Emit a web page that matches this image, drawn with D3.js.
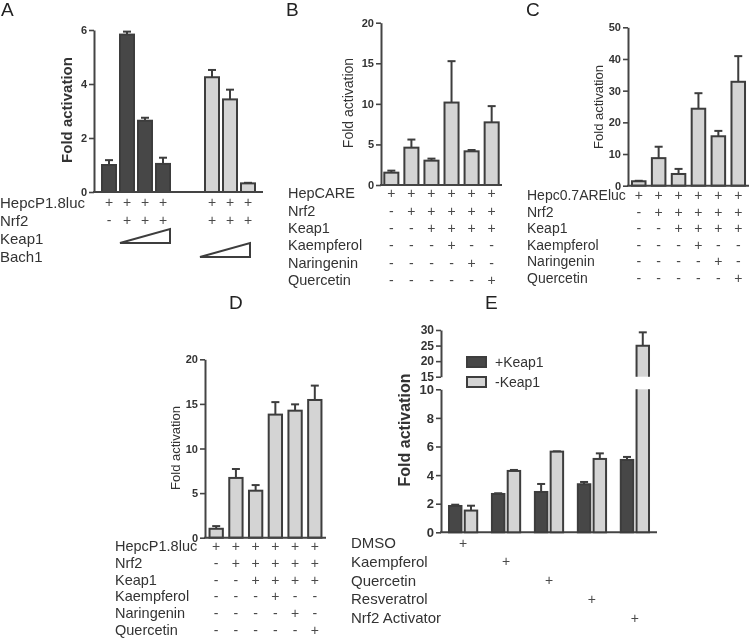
<!DOCTYPE html>
<html><head><meta charset="utf-8">
<script src="https://cdn.jsdelivr.net/npm/d3@7"></script>
<style>
body{margin:0;background:#fff;}
svg{display:block;font-family:"Liberation Sans",Arial,sans-serif;}
</style></head><body>
<svg id="chart" width="750" height="638"><g id="root" opacity="0.999"></g></svg>
<script>
// ---------- Panel A ----------
const aKeap1Values = [1.0, 5.83, 2.64, 1.04];
const aKeap1Errors = [0.18, 0.11, 0.11, 0.23];
const aBach1Values = [4.25, 3.43, 0.32];
const aBach1Errors = [0.27, 0.36, 0.02];
const aTicks = [0, 2, 4, 6];
const aRowLabels = ["HepcP1.8luc", "Nrf2", "Keap1", "Bach1"];
const aRowMarks = [["+","+","+","+","+","+","+"], ["-","+","+","+","+","+","+"]];

// ---------- Shared +/- design for B, C, D ----------
const flavonoidMarks = [
  ["+","+","+","+","+","+"],
  ["-","+","+","+","+","+"],
  ["-","-","+","+","+","+"],
  ["-","-","-","+","-","-"],
  ["-","-","-","-","+","-"],
  ["-","-","-","-","-","+"]
];

// ---------- Panel B ----------
const bValues = [1.52, 4.6, 3.0, 10.16, 4.15, 7.72];
const bErrors = [0.25, 1.0, 0.25, 5.1, 0.16, 2.0];
const bTicks = [0, 5, 10, 15, 20];
const bRowLabels = ["HepCARE", "Nrf2", "Keap1", "Kaempferol", "Naringenin", "Quercetin"];

// ---------- Panel C ----------
const cValues = [1.4, 8.7, 3.7, 24.3, 15.6, 32.8];
const cErrors = [0.15, 3.6, 1.6, 4.9, 1.7, 8.1];
const cTicks = [0, 10, 20, 30, 40, 50];
const cRowLabels = ["Hepc0.7AREluc", "Nrf2", "Keap1", "Kaempferol", "Naringenin", "Quercetin"];

// ---------- Panel D ----------
const dValues = [1.0, 6.7, 5.27, 13.8, 14.24, 15.44];
const dErrors = [0.3, 1.0, 0.63, 1.4, 0.71, 1.61];
const dTicks = [0, 5, 10, 15, 20];
const dRowLabels = ["HepcP1.8luc", "Nrf2", "Keap1", "Kaempferol", "Naringenin", "Quercetin"];

// ---------- Panel E ----------
const eTreatments = ["DMSO", "Kaempferol", "Quercetin", "Resveratrol", "Nrf2 Activator"];
const eSeries = ["+Keap1", "-Keap1"];
const ePlusKeap1 = [1.84, 2.68, 2.82, 3.36, 5.06];
const ePlusKeap1Err = [0.09, 0.05, 0.56, 0.16, 0.21];
const eMinusKeap1 = [1.52, 4.29, 5.64, 5.13, 24.96];
const eMinusKeap1Err = [0.34, 0.07, 0.02, 0.39, 4.29];
const eLowerTicks = [0, 2, 4, 6, 8, 10];
const eUpperTicks = [15, 20, 25, 30];

// ---------- styles ----------
const DARK = "#474747", LIGHT = "#d4d4d4", EDGE = "#3d3d3d", TXT = "#333", AX = "#444";
const svg = d3.select("#root");

function yAxis(scale, ticks, x, size, weight) {
  const g = svg.append("g").attr("transform", `translate(${x},0)`)
    .call(d3.axisLeft(scale).tickValues(ticks).tickFormat(d3.format("d")).tickSize(5).tickSizeOuter(0).tickPadding(2));
  g.select(".domain").attr("stroke", AX).attr("stroke-width", 2);
  g.selectAll(".tick line").attr("stroke", AX).attr("stroke-width", 1.6);
  g.selectAll(".tick text").attr("fill", TXT).attr("font-size", size).attr("font-weight", weight)
    .attr("font-family", "Liberation Sans, Arial, sans-serif");
  return g;
}
function xLine(x1, x2, y) {
  svg.append("line").attr("x1", x1 - 1).attr("x2", x2).attr("y1", y).attr("y2", y)
    .attr("stroke", AX).attr("stroke-width", 2);
}
function bars(xs, ys, values, errors, fill, capHalf) {
  const bw = xs.bandwidth();
  const g = svg.append("g");
  values.forEach((v, i) => {
    const x = xs(i), cx = x + bw / 2;
    const top = ys(v + errors[i]);
    g.append("line").attr("x1", cx).attr("x2", cx).attr("y1", ys(v)).attr("y2", top)
      .attr("stroke", EDGE).attr("stroke-width", 2);
    g.append("line").attr("x1", cx - capHalf).attr("x2", cx + capHalf).attr("y1", top).attr("y2", top)
      .attr("stroke", EDGE).attr("stroke-width", 2);
    g.append("rect").attr("x", x).attr("y", ys(v)).attr("width", bw).attr("height", ys(0) - ys(v))
      .attr("fill", fill).attr("stroke", EDGE).attr("stroke-width", 2);
  });
}
function yLabel(text, x, y, size, weight) {
  svg.append("text").attr("transform", `translate(${x},${y}) rotate(-90)`)
    .attr("text-anchor", "middle").attr("dominant-baseline", "central")
    .attr("font-size", size).attr("font-weight", weight).attr("fill", TXT).text(text);
}
function rowLabel(text, x, y, size) {
  svg.append("text").attr("x", x).attr("y", y).attr("dominant-baseline", "central")
    .attr("font-size", size).attr("fill", TXT).text(text);
}
function mark(text, x, y) {
  svg.append("text").attr("x", x).attr("y", y).attr("text-anchor", "middle")
    .attr("dominant-baseline", "central").attr("font-size", 14).attr("fill", "#4a4a4a").text(text);
}
function letter(text, x, y) {
  svg.append("text").attr("x", x).attr("y", y).attr("font-size", 19).attr("fill", "#222").text(text);
}

// ================= Panel A =================
letter("A", 1, 16);
const yA = d3.scaleLinear().domain([0, 6]).range([192, 30]);
const xAK = d3.scaleBand().domain(d3.range(aKeap1Values.length)).range([100, 172]).paddingInner(0.222).paddingOuter(0.111);
const xAB = d3.scaleBand().domain(d3.range(aBach1Values.length)).range([203, 257]).paddingInner(0.222).paddingOuter(0.111);
yAxis(yA, aTicks, 94, 11, "bold");
bars(xAK, yA, aKeap1Values, aKeap1Errors, DARK, 4);
bars(xAB, yA, aBach1Values, aBach1Errors, LIGHT, 4);
xLine(94, 263, 192);
yLabel("Fold activation", 66, 110, 15, "bold");
const aCenters = [...d3.range(4).map(i => xAK(i) + xAK.bandwidth() / 2), ...d3.range(3).map(i => xAB(i) + xAB.bandwidth() / 2)];
aRowLabels.forEach((t, r) => rowLabel(t, 0, 202 + r * 18, 15));
aRowMarks.forEach((row, r) => row.forEach((m, i) => mark(m, aCenters[i], 202 + r * 18)));
// wedges for increasing Keap1 / Bach1
svg.append("path").attr("d", `M${xAK(1)},243 L${xAK(3) + xAK.bandwidth()},243 L${xAK(3) + xAK.bandwidth()},229 Z`)
  .attr("fill", "#fff").attr("stroke", EDGE).attr("stroke-width", 2);
svg.append("path").attr("d", `M${xAB(0) - 5},257 L${xAB(2) + xAB.bandwidth() - 5},257 L${xAB(2) + xAB.bandwidth() - 5},243 Z`)
  .attr("fill", "#fff").attr("stroke", EDGE).attr("stroke-width", 2);

// ================= Panel B / C / D =================
function flavPanel(values, errors, ticks, labels, cfg) {
  letter(cfg.letter, cfg.lx, cfg.ly);
  const y = d3.scaleLinear().domain([0, d3.max(ticks)]).range([cfg.y0, cfg.yTop]);
  const x = d3.scaleBand().domain(d3.range(values.length)).range([cfg.ax, cfg.xEnd]).paddingInner(cfg.pi).paddingOuter(cfg.po);
  yAxis(y, ticks, cfg.ax, cfg.tickSize, cfg.tickWeight);
  bars(x, y, values, errors, LIGHT, 4);
  xLine(cfg.ax, cfg.xEnd, cfg.y0);
  yLabel("Fold activation", cfg.labX, cfg.labY, cfg.labSize, "normal");
  labels.forEach((t, r) => rowLabel(t, cfg.rowX, cfg.row0 + r * cfg.rowStep, cfg.rowSize));
  flavonoidMarks.forEach((row, r) => row.forEach((m, i) => mark(m, x(i) + x.bandwidth() / 2, cfg.row0 + r * cfg.rowStep)));
}
flavPanel(bValues, bErrors, bTicks, bRowLabels, {letter: "B", lx: 286, ly: 16,
  y0: 185, yTop: 22.7, ax: 381, xEnd: 502, pi: 0.3, po: 0.165, tickSize: 11, tickWeight: "bold",
  labX: 348, labY: 103, labSize: 14, rowX: 288, row0: 193.3, rowStep: 17.35, rowSize: 14.5});
flavPanel(cValues, cErrors, cTicks, cRowLabels, {letter: "C", lx: 526, ly: 16,
  y0: 185.7, yTop: 27.3, ax: 628, xEnd: 749, pi: 0.32, po: 0.2, tickSize: 11, tickWeight: "bold",
  labX: 598, labY: 107, labSize: 13, rowX: 527, row0: 195, rowStep: 16.6, rowSize: 14});
flavPanel(dValues, dErrors, dTicks, dRowLabels, {letter: "D", lx: 229, ly: 309,
  y0: 537.7, yTop: 359.3, ax: 205, xEnd: 326, pi: 0.325, po: 0.23, tickSize: 11, tickWeight: "bold",
  labX: 175, labY: 448, labSize: 13, rowX: 115, row0: 546, rowStep: 16.8, rowSize: 14.5});

// ================= Panel E =================
letter("E", 485, 309);
const yEl = d3.scaleLinear().domain([0, 10]).range([532.3, 389.3]);
const yEu = d3.scaleLinear().domain([15, 30]).range([376.7, 330]);
const xE = d3.scaleBand().domain(eTreatments).range([441, 657]).paddingInner(0.343).paddingOuter(0.186);
const xEi = d3.scaleBand().domain(eSeries).range([0, xE.bandwidth()]).paddingInner(0.209);
yAxis(yEl, eLowerTicks, 441, 13, "bold");
yAxis(yEu, eUpperTicks, 441, 12, "bold");
xLine(441, 657, 532.3);
yLabel("Fold activation", 404, 430, 16, "bold");
const eData = [[ePlusKeap1, ePlusKeap1Err, DARK], [eMinusKeap1, eMinusKeap1Err, LIGHT]];
eData.forEach(([vals, errs, fill], s) => {
  vals.forEach((v, i) => {
    const x = xE(eTreatments[i]) + xEi(eSeries[s]), w = xEi.bandwidth(), cx = x + w / 2;
    const yv = v => v <= 10 ? yEl(v) : yEu(v);
    const top = yv(v + errs[i]);
    svg.append("line").attr("x1", cx).attr("x2", cx).attr("y1", yv(v)).attr("y2", top).attr("stroke", EDGE).attr("stroke-width", 2);
    svg.append("line").attr("x1", cx - 4).attr("x2", cx + 4).attr("y1", top).attr("y2", top).attr("stroke", EDGE).attr("stroke-width", 2);
    if (v <= 10) {
      svg.append("rect").attr("x", x).attr("y", yEl(v)).attr("width", w).attr("height", yEl(0) - yEl(v))
        .attr("fill", fill).attr("stroke", EDGE).attr("stroke-width", 2);
    } else {
      // broken bar: lower part up to the axis break, upper part from 15
      svg.append("rect").attr("x", x).attr("y", yEl(10)).attr("width", w).attr("height", yEl(0) - yEl(10)).attr("fill", fill);
      svg.append("path").attr("d", `M${x},${yEl(10)} V${yEl(0)} H${x + w} V${yEl(10)}`).attr("fill", "none").attr("stroke", EDGE).attr("stroke-width", 2);
      svg.append("rect").attr("x", x).attr("y", yEu(v)).attr("width", w).attr("height", yEu(15) - yEu(v)).attr("fill", fill);
      svg.append("path").attr("d", `M${x},${yEu(15)} V${yEu(v)} H${x + w} V${yEu(15)}`).attr("fill", "none").attr("stroke", EDGE).attr("stroke-width", 2);
    }
  });
});
// legend
eSeries.forEach((s, i) => {
  svg.append("rect").attr("x", 467).attr("y", 357 + i * 20).attr("width", 19).attr("height", 10)
    .attr("fill", i === 0 ? DARK : LIGHT).attr("stroke", EDGE).attr("stroke-width", 2);
  svg.append("text").attr("x", 495).attr("y", 362 + i * 20).attr("dominant-baseline", "central")
    .attr("font-size", 14).attr("fill", TXT).text(s);
});
eTreatments.forEach((t, r) => {
  rowLabel(t, 351, 542.5 + r * 18.8, 15);
  mark("+", xE(t) + xE.bandwidth() / 2, 542.5 + r * 18.8);
});
</script>
</body></html>
